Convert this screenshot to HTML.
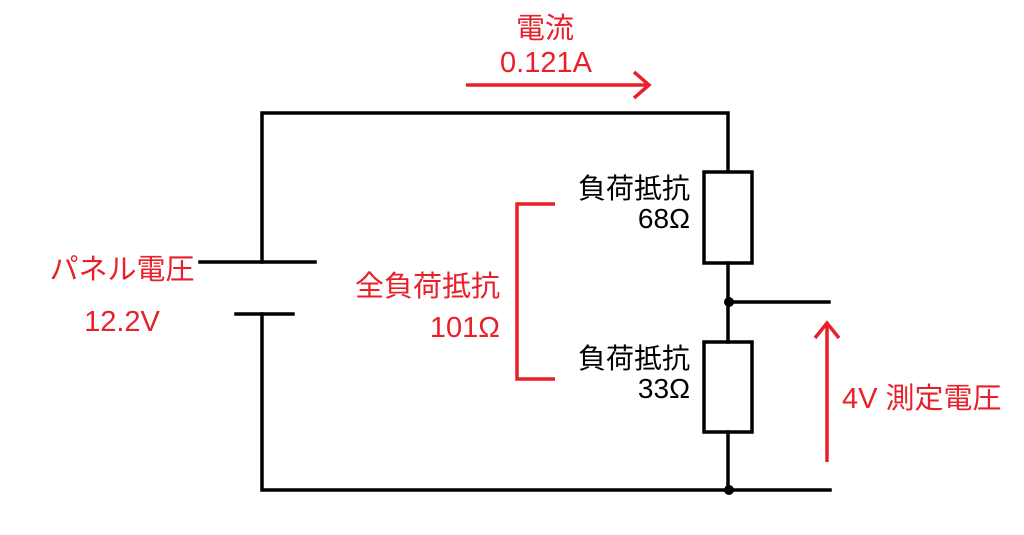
<!DOCTYPE html>
<html><head><meta charset="utf-8"><style>
body{margin:0;background:#fff}
svg text{font-family:"Liberation Sans","Noto Sans CJK JP",sans-serif}
</style></head><body>
<svg width="1024" height="530" viewBox="0 0 1024 530" xmlns="http://www.w3.org/2000/svg">
<g stroke="#000" stroke-width="3.5" fill="none" stroke-linecap="square">
<polyline points="262,262 262,113 728,113 728,172"/>
<polyline points="262,314 262,490 830,490"/>
<line x1="200" y1="262" x2="315" y2="262"/>
<line x1="236" y1="314" x2="293" y2="314"/>
<rect x="704" y="172" width="48" height="91" fill="#fff"/>
<rect x="704" y="342" width="48" height="90" fill="#fff"/>
<line x1="728" y1="263" x2="728" y2="342"/>
<line x1="728" y1="432" x2="728" y2="490"/>
<line x1="728" y1="302" x2="829" y2="302"/>
</g>
<circle cx="729" cy="302" r="5" fill="#000"/>
<circle cx="729" cy="490" r="5" fill="#000"/>
<g stroke="#e8202a" stroke-width="3.5" fill="none">
<polyline points="555,204 517,204 517,379 555,379"/>
<line x1="466" y1="85" x2="648" y2="85"/>
<polyline points="634,72 649,85 634,98"/>
<line x1="827" y1="462" x2="827" y2="324"/>
<polyline points="815,338 827,323 839,338"/>
</g>
<g fill="#e8202a" font-size="29">
<text x="545" y="38" text-anchor="middle">電流</text>
<text x="546" y="72" text-anchor="middle">0.121A</text>
<text x="122" y="279" text-anchor="middle">パネル電圧</text>
<text x="122" y="331" text-anchor="middle">12.2V</text>
<text x="500" y="296" text-anchor="end">全負荷抵抗</text>
<text x="500" y="337" text-anchor="end">101Ω</text>
<text x="842" y="408">4V 測定電圧</text>
</g>
<g fill="#000" font-size="28">
<text x="690" y="198" text-anchor="end">負荷抵抗</text>
<text x="690" y="228" text-anchor="end">68Ω</text>
<text x="690" y="368" text-anchor="end">負荷抵抗</text>
<text x="690" y="398" text-anchor="end">33Ω</text>
</g>
</svg>
</body></html>
